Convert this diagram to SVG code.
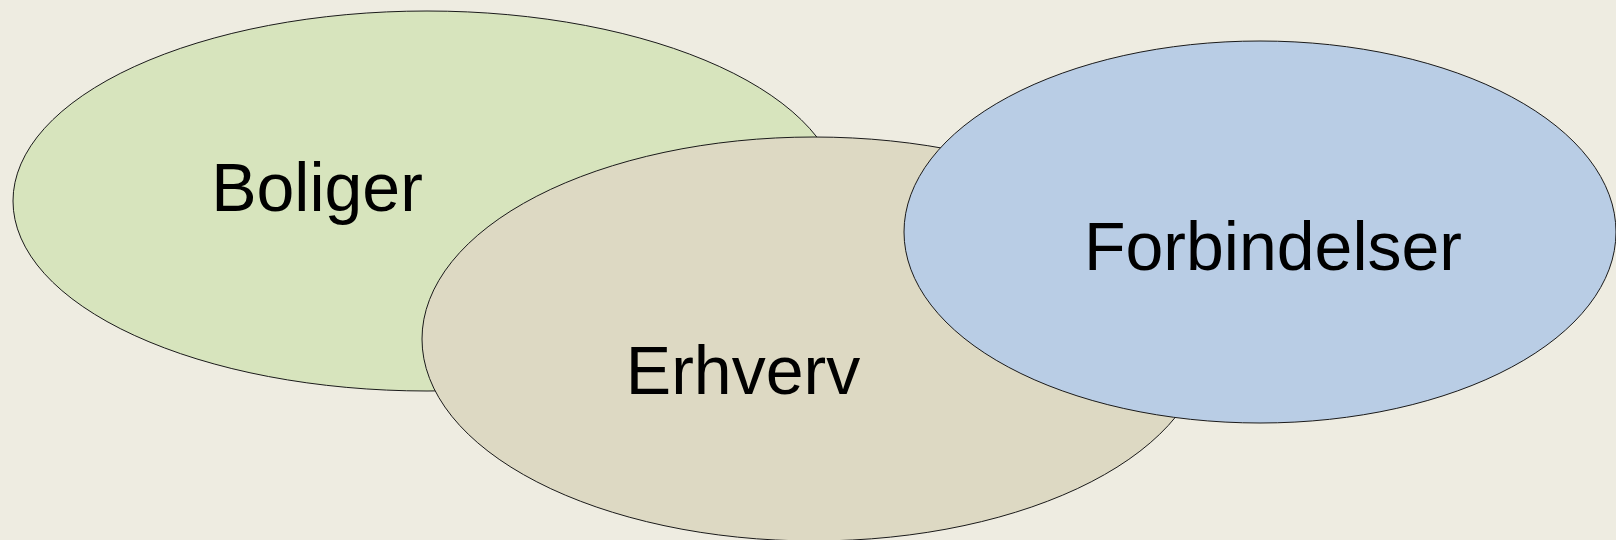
<svg xmlns="http://www.w3.org/2000/svg" width="1616" height="540" viewBox="0 0 1616 540">
<style>
.n{stroke:#1a1a1a;stroke-width:1}
.t{font-family:"Liberation Sans",Arial,sans-serif;font-size:68px;fill:#000;text-anchor:middle}
</style>
<rect width="1616" height="540" fill="#EEECE1"/>
<g id="boliger">
<ellipse class="n" cx="427" cy="201" rx="414" ry="190" fill="#D7E4BD"/>
<text class="t" x="317" y="211">Boliger</text>
</g>
<g id="erhverv">
<ellipse class="n" cx="814" cy="339" rx="392" ry="202" fill="#DDD9C3"/>
<text class="t" x="743" y="394">Erhverv</text>
</g>
<g id="forbindelser">
<ellipse class="n" cx="1260" cy="232" rx="356" ry="191" fill="#B9CDE5"/>
<text class="t" x="1273" y="270">Forbindelser</text>
</g>
<g id="connectors"></g>
</svg>
